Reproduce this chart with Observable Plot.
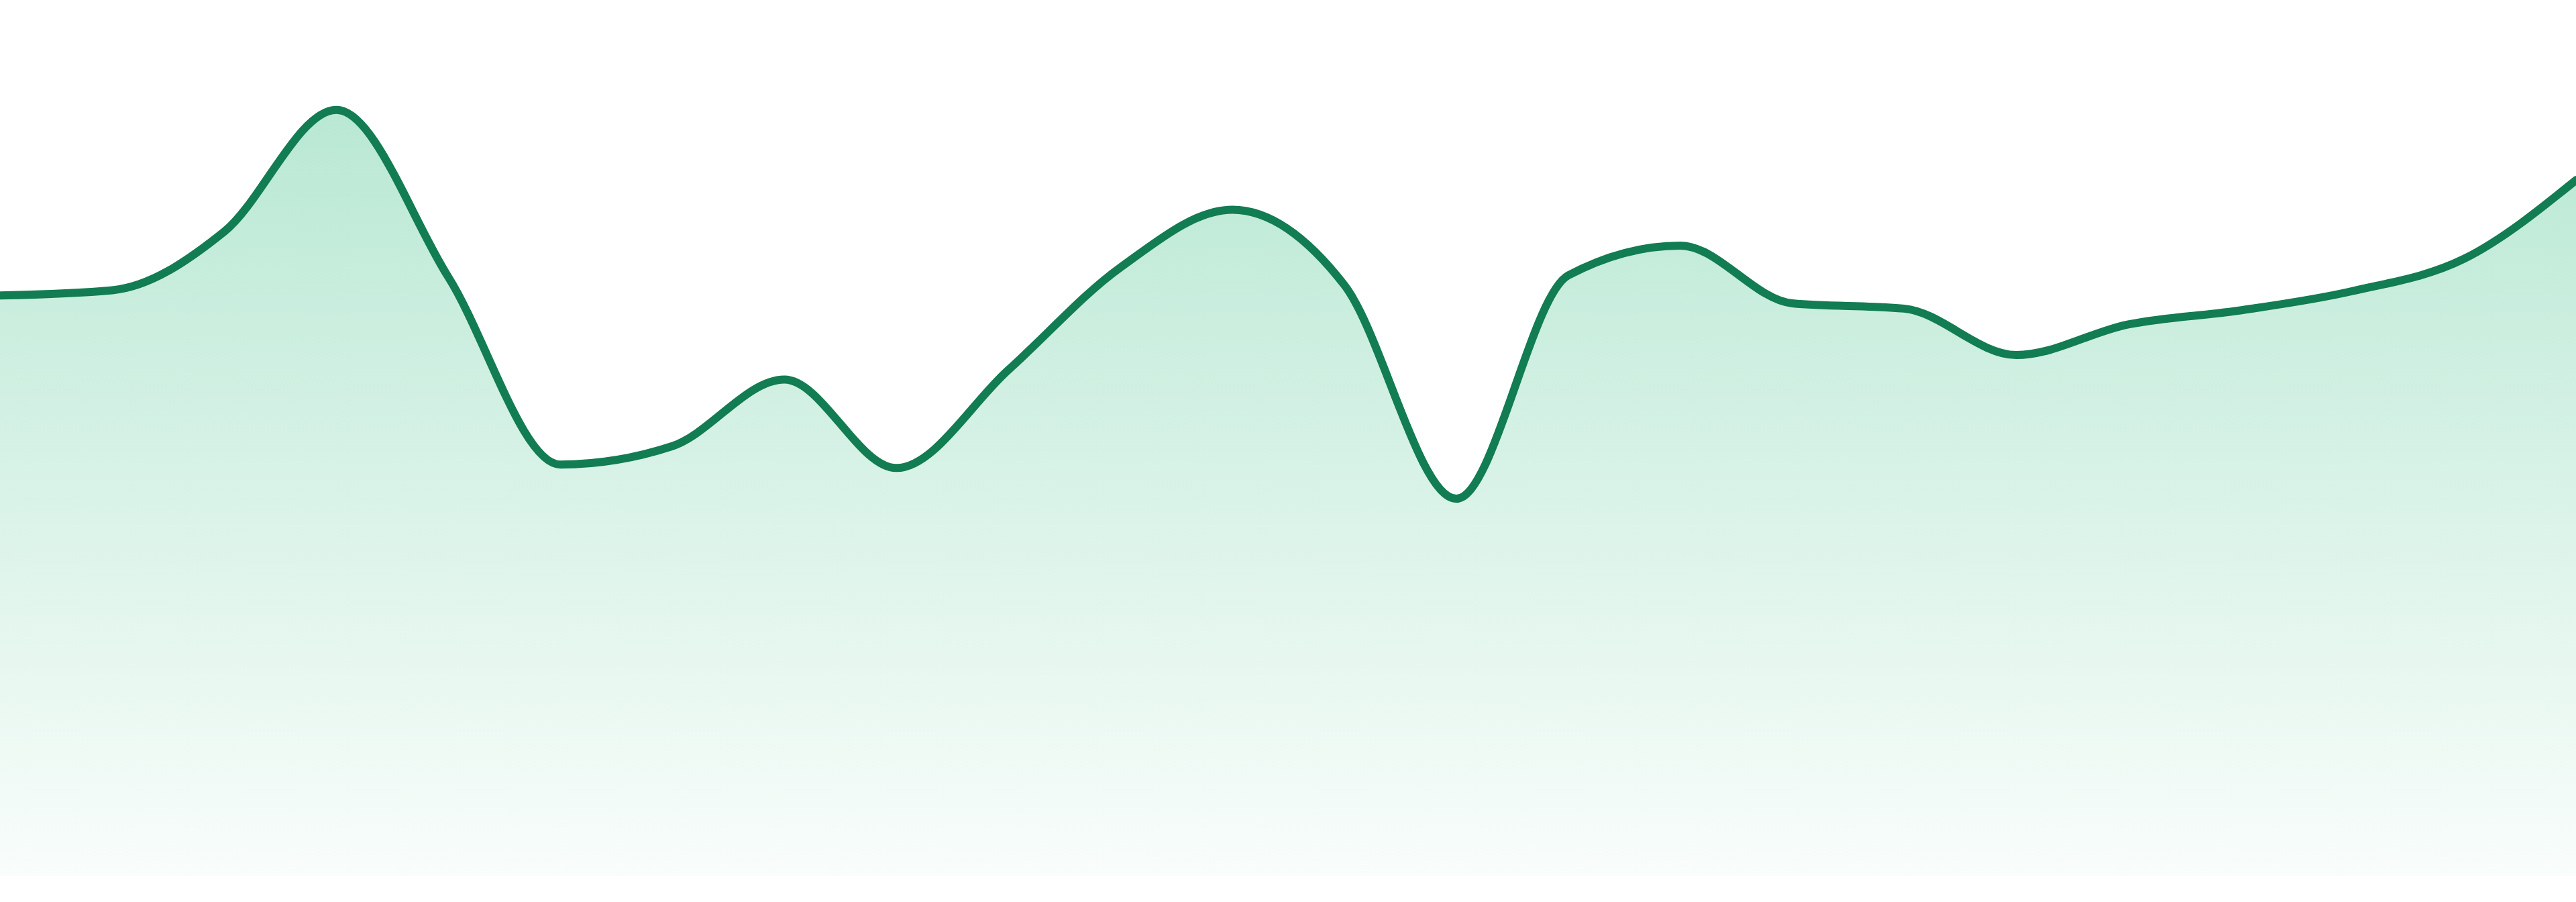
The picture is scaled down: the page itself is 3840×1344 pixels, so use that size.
<!DOCTYPE html>
<html>
<head>
<meta charset="utf-8">
<script src="https://cdn.jsdelivr.net/npm/d3@7"></script>
<script src="https://cdn.jsdelivr.net/npm/@observablehq/plot@0.6"></script>
<style>
  html, body { margin: 0; padding: 0; background: #ffffff; }
  #chart svg { display: block; }
</style>
</head>
<body>
<div id="chart"></div>
<script>
const steps = d3.range(24);
const values = [66.3, 66.9, 73.6, 87.5, 68.4, 47.0, 49.1, 56.7, 46.6, 57.8, 69.5, 76.1,
                67.5, 43.1, 68.6, 72.0, 65.4, 64.8, 59.5, 63.0, 64.6, 66.8, 70.5, 79.5];

const data = steps.map((s, i) => ({step: s, value: values[i]}));

const gradientDefs = () => {
  const defs = d3.create("svg:defs");
  const g = defs.append("linearGradient")
    .attr("id", "areaFill")
    .attr("x1", 0).attr("y1", 0).attr("x2", 0).attr("y2", 1);
  g.append("stop").attr("offset", "0%").attr("stop-color", "#b9e8d4");
  g.append("stop").attr("offset", "100%").attr("stop-color", "#f9fdfb");
  return defs.node();
};

const chart = Plot.plot({
  width: 3840,
  height: 1344,
  marginTop: 0,
  marginBottom: 39,
  marginLeft: 0,
  marginRight: 0,
  x: {domain: [0, 23], axis: null},
  y: {domain: [0, 100], axis: null},
  marks: [
    gradientDefs,
    Plot.areaY(data, {x: "step", y: "value", curve: "monotone-x", fill: "url(#areaFill)"}),
    Plot.lineY(data, {x: "step", y: "value", curve: "monotone-x", stroke: "#127c52", strokeWidth: 12})
  ]
});
document.getElementById("chart").appendChild(chart);
</script>
</body>
</html>
